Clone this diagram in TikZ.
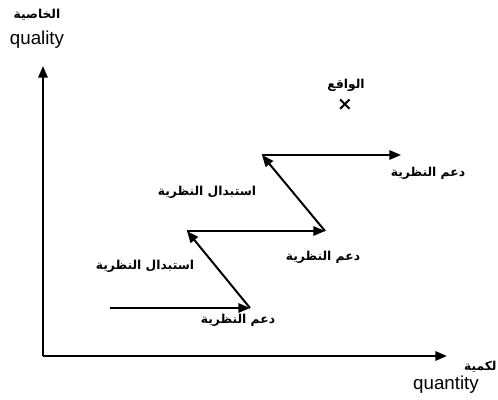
\documentclass[tikz,border=0pt]{standalone}
\usepackage{fontspec}
\setmainfont{Liberation Sans}
\newfontfamily\arabicfont[Script=Arabic]{DejaVu Sans}
\TeXXeTstate=1
\usetikzlibrary{arrows.meta, positioning}

\begin{document}
\begin{tikzpicture}[
			x=0.03cm, y=-0.03cm,
			axis/.style={-{Triangle[length=10pt, width=8pt]}, line width=1.9pt},
			arrow/.style={-{Triangle[length=10pt, width=8pt]}, line width=1.7pt},
			arlabel/.style={inner sep=1pt, font=\arabicfont\bfseries\fontsize{10.5}{12}\selectfont},
			enlabel/.style={inner sep=1pt, font=\fontsize{16}{18}\selectfont}
			]
			\useasboundingbox (0,0) rectangle (498,400);
			% axes
			\coordinate (origin) at (43,356);
			\coordinate (ytop) at (43,66);
			\coordinate (xend) at (447,356);
			\draw[axis] (origin) -- (ytop);
			\draw[axis] (origin) -- (xend);
			\node[arlabel] (qualityar) at (37,15) {\beginR الخاصية\endR};
			\node[enlabel] (quality) at (37,40) {quality};
			\node[arlabel, anchor=east] (quantityar) at (498,367) {\beginR لكمية\endR};
			\node[enlabel] (quantity) at (446,385) {quantity};
			
			% path of theories
			\coordinate (p0) at (110,308);
			\coordinate (p1) at (250,308);
			\coordinate (p2) at (187,231);
			\coordinate (p3) at (325,231);
			\coordinate (p4) at (262,155);
			\coordinate (p5) at (401,155);
			\draw[arrow] (p0) -- (p1);
			\draw[arrow] (p1) -- (p2);
			\draw[arrow] (p2) -- (p3);
			\draw[arrow] (p3) -- (p4);
			\draw[arrow] (p4) -- (p5);
			
			\node[arlabel] (support1) at (238,320) {\beginR دعم النظرية\endR};
			\node[arlabel] (replace1) at (145,266) {\beginR استبدال النظرية\endR};
			\node[arlabel] (support2) at (323,257) {\beginR دعم النظرية\endR};
			\node[arlabel] (replace2) at (207,192) {\beginR استبدال النظرية\endR};
			\node[arlabel] (support3) at (428,173) {\beginR دعم النظرية\endR};
			
			\node[arlabel] (realityar) at (346,85) {\beginR الواقع\endR};
			\node[arlabel, font=\arabicfont\bfseries\fontsize{16}{16}\selectfont] (reality) at (345,105) {×};
		\end{tikzpicture}
\end{document}
